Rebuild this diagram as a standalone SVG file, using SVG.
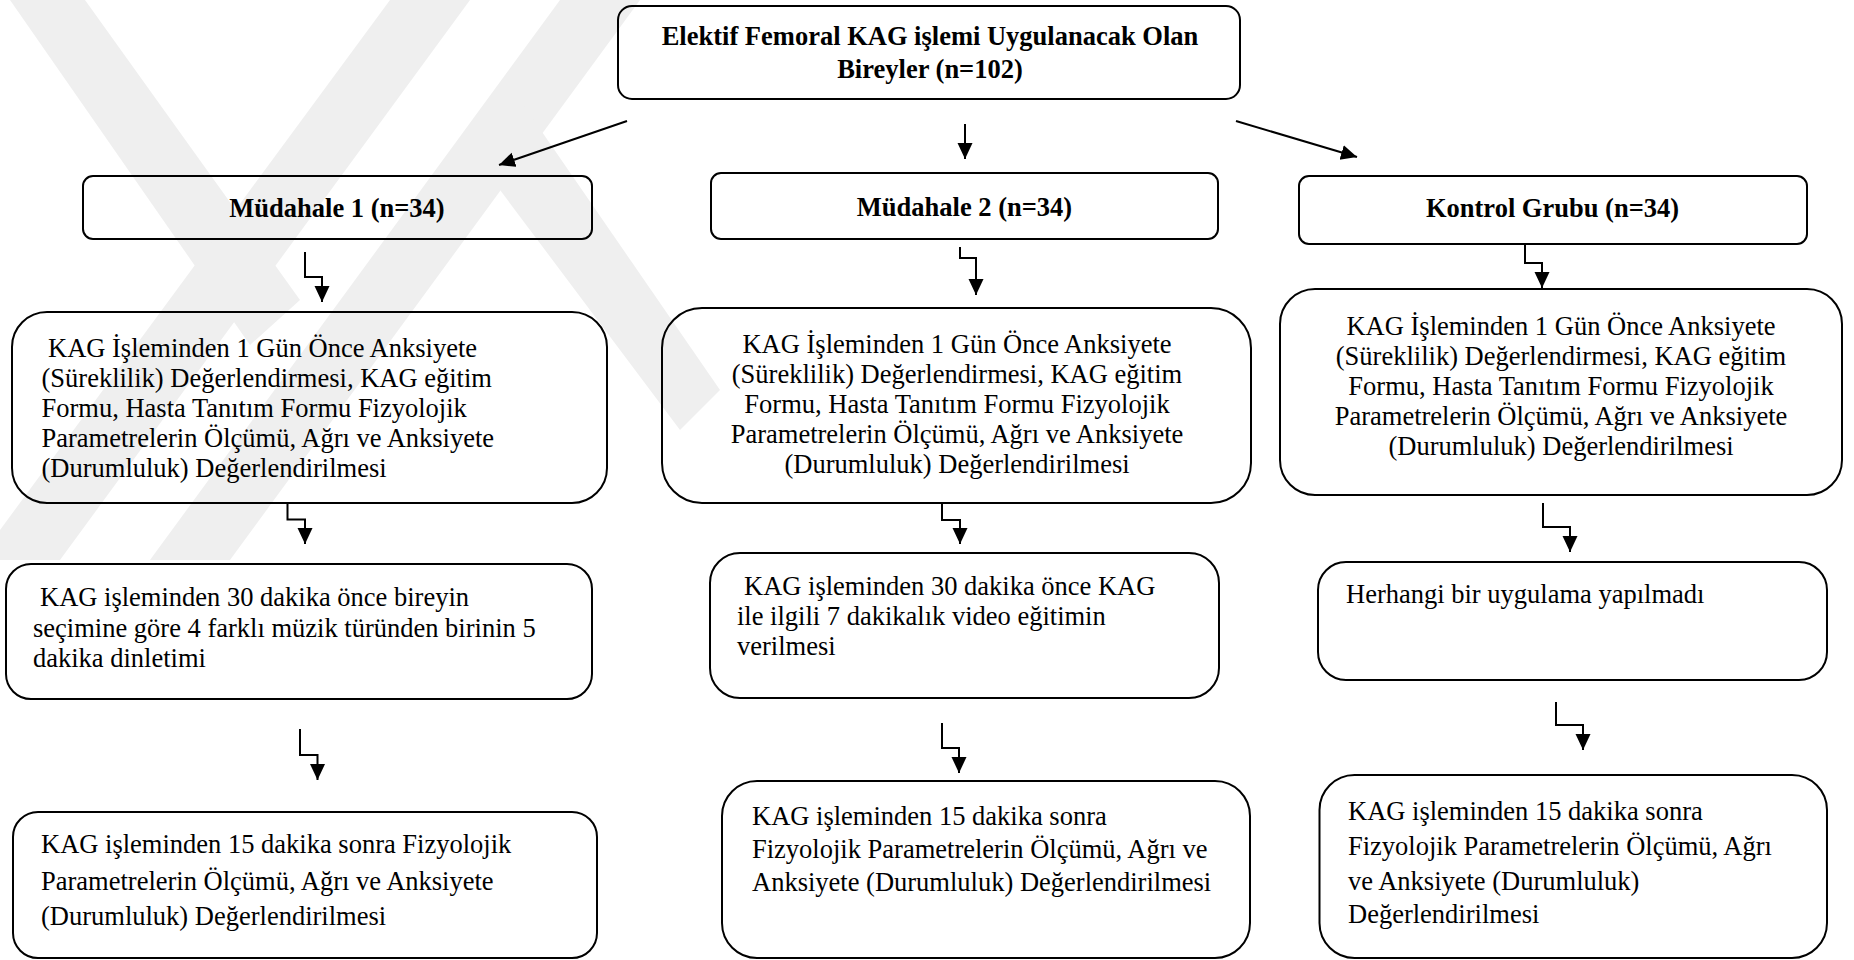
<svg xmlns="http://www.w3.org/2000/svg" width="1854" height="960" viewBox="0 0 1854 960">
<defs>
<style>
.box{fill:none;stroke:#000;stroke-width:2}
.b{font-family:"Liberation Serif","Times New Roman",serif;font-weight:bold;font-size:26.5px;fill:#000}
.t{font-family:"Liberation Serif","Times New Roman",serif;font-size:26.5px;fill:#000}
.c{text-anchor:middle}
.con{fill:none;stroke:#000;stroke-width:2}
.wm{fill:#efefef}
</style>
<marker id="ah" markerUnits="userSpaceOnUse" markerWidth="17" markerHeight="16" refX="16" refY="7.5" orient="auto">
<path d="M0,0 L16,7.5 L0,15 z" fill="#000"/>
</marker>
</defs>
<rect width="1854" height="960" fill="#fff"/>

<g id="watermark">
<polygon class="wm" points="10,0 85,0 300,300 250,345"/>
<polygon class="wm" points="390,0 470,0 60,560 0,560 0,530"/>
<polygon class="wm" points="560,0 640,0 230,560 150,560"/>
<polygon class="wm" points="470,150 520,100 720,390 680,430"/>
</g>

<g id="connectors">
<path class="con" d="M627,121 L499,165" marker-end="url(#ah)"/>
<path class="con" d="M965,124 L965,159" marker-end="url(#ah)"/>
<path class="con" d="M1236,121 L1357,157" marker-end="url(#ah)"/>
<path class="con" d="M305,252 V277 H322 V302" marker-end="url(#ah)"/>
<path class="con" d="M960,247 V258 H976 V295" marker-end="url(#ah)"/>
<path class="con" d="M1525,245 V263 H1542 V288" marker-end="url(#ah)"/>
<path class="con" d="M287.5,504 V519.5 H305 V544" marker-end="url(#ah)"/>
<path class="con" d="M942,504 V520 H960 V544" marker-end="url(#ah)"/>
<path class="con" d="M1543,503 V527 H1570 V552" marker-end="url(#ah)"/>
<path class="con" d="M300,729 V755 H317.5 V780" marker-end="url(#ah)"/>
<path class="con" d="M942,723 V748 H959 V773" marker-end="url(#ah)"/>
<path class="con" d="M1556,702 V725 H1583 V750" marker-end="url(#ah)"/>
</g>

<g id="top">
<rect class="box" x="618" y="6" width="622" height="93" rx="14" fill="#fff"/>
<text class="b c" x="930" y="45">Elektif Femoral KAG işlemi Uygulanacak Olan</text>
<text class="b c" x="930" y="78">Bireyler (n=102)</text>
</g>

<g id="m1">
<rect class="box" x="83" y="176" width="509" height="63" rx="10"/>
<text class="b c" x="337" y="217">Müdahale 1 (n=34)</text>
</g>
<g id="m2">
<rect class="box" x="711" y="173" width="507" height="66" rx="10"/>
<text class="b c" x="964.5" y="216">Müdahale 2 (n=34)</text>
</g>
<g id="k">
<rect class="box" x="1299" y="176" width="508" height="68" rx="10"/>
<text class="b c" x="1552.5" y="217">Kontrol Grubu (n=34)</text>
</g>

<g id="m1-pre">
<rect class="box" x="12" y="312" width="595" height="191" rx="35"/>
<text class="t" x="48" y="357">KAG İşleminden 1 Gün Önce Anksiyete</text>
<text class="t" x="41.5" y="387">(Süreklilik) Değerlendirmesi, KAG eğitim</text>
<text class="t" x="41.5" y="417">Formu, Hasta Tanıtım Formu Fizyolojik</text>
<text class="t" x="41.5" y="447">Parametrelerin Ölçümü, Ağrı ve Anksiyete</text>
<text class="t" x="41.5" y="477">(Durumluluk) Değerlendirilmesi</text>
</g>
<g id="m2-pre">
<rect class="box" x="662" y="308" width="589" height="195" rx="40"/>
<text class="t c" x="957" y="353">KAG İşleminden 1 Gün Önce Anksiyete</text>
<text class="t c" x="957" y="383">(Süreklilik) Değerlendirmesi, KAG eğitim</text>
<text class="t c" x="957" y="413">Formu, Hasta Tanıtım Formu Fizyolojik</text>
<text class="t c" x="957" y="443">Parametrelerin Ölçümü, Ağrı ve Anksiyete</text>
<text class="t c" x="957" y="473">(Durumluluk) Değerlendirilmesi</text>
</g>
<g id="k-pre">
<rect class="box" x="1280" y="289" width="562" height="206" rx="35"/>
<text class="t c" x="1561" y="335">KAG İşleminden 1 Gün Önce Anksiyete</text>
<text class="t c" x="1561" y="365">(Süreklilik) Değerlendirmesi, KAG eğitim</text>
<text class="t c" x="1561" y="395">Formu, Hasta Tanıtım Formu Fizyolojik</text>
<text class="t c" x="1561" y="425">Parametrelerin Ölçümü, Ağrı ve Anksiyete</text>
<text class="t c" x="1561" y="455">(Durumluluk) Değerlendirilmesi</text>
</g>

<g id="m1-int">
<rect class="box" x="6" y="564" width="586" height="135" rx="25"/>
<text class="t" x="40" y="606">KAG işleminden 30 dakika önce bireyin</text>
<text class="t" x="33" y="637">seçimine göre 4 farklı müzik türünden birinin 5</text>
<text class="t" x="33" y="667">dakika dinletimi</text>
</g>
<g id="m2-int">
<rect class="box" x="710" y="553" width="509" height="145" rx="30"/>
<text class="t" x="744" y="595">KAG işleminden 30 dakika önce KAG</text>
<text class="t" x="737" y="625">ile ilgili 7 dakikalık video eğitimin</text>
<text class="t" x="737" y="655">verilmesi</text>
</g>
<g id="k-int">
<rect class="box" x="1318" y="562" width="509" height="118" rx="28"/>
<text class="t" x="1346" y="603">Herhangi bir uygulama yapılmadı</text>
</g>

<g id="m1-post">
<rect class="box" x="13" y="812" width="584" height="146" rx="25"/>
<text class="t" x="41" y="853">KAG işleminden 15 dakika sonra Fizyolojik</text>
<text class="t" x="41" y="890">Parametrelerin Ölçümü, Ağrı ve Anksiyete</text>
<text class="t" x="41" y="925">(Durumluluk) Değerlendirilmesi</text>
</g>
<g id="m2-post">
<rect class="box" x="722" y="781" width="528" height="177" rx="35"/>
<text class="t" x="752" y="825">KAG işleminden 15 dakika sonra</text>
<text class="t" x="752" y="858">Fizyolojik Parametrelerin Ölçümü, Ağrı ve</text>
<text class="t" x="752" y="891">Anksiyete (Durumluluk) Değerlendirilmesi</text>
</g>
<g id="k-post">
<rect class="box" x="1319.5" y="775" width="507.5" height="183" rx="35"/>
<text class="t" x="1348" y="820">KAG işleminden 15 dakika sonra</text>
<text class="t" x="1348" y="855">Fizyolojik Parametrelerin Ölçümü, Ağrı</text>
<text class="t" x="1348" y="890">ve Anksiyete (Durumluluk)</text>
<text class="t" x="1348" y="923">Değerlendirilmesi</text>
</g>
</svg>
